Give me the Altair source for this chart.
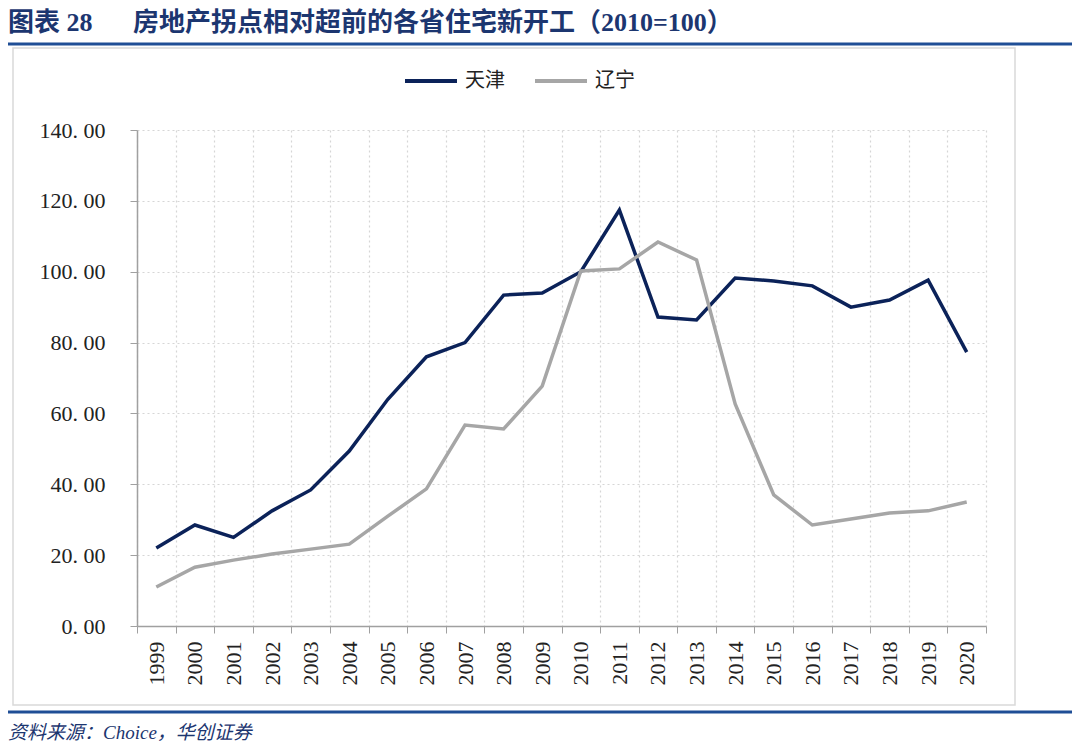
import altair as alt
import pandas as pd

years = [str(y) for y in range(1999, 2021)]
tianjin = [22.0, 28.5, 25.0, 32.5, 38.4, 49.4, 64.0, 76.0, 80.0, 93.4, 94.0, 100.0,
           117.4, 87.2, 86.4, 98.2, 97.4, 96.0, 90.0, 92.0, 97.6, 77.3]
liaoning = [11.0, 16.6, 18.6, 20.3, 21.7, 23.1, 31.0, 38.7, 56.7, 55.6, 67.7, 100.2,
            100.8, 108.4, 103.3, 62.7, 37.0, 28.5, 30.2, 31.9, 32.5, 35.0]
series = ["天津", "辽宁"]
colors = ["#0b2259", "#a6a6a6"]
y_ticks = [0, 20, 40, 60, 80, 100, 120, 140]

title_label = "图表 28"
title_text = "房地产拐点相对超前的各省住宅新开工"
title_paren = "（2010=100）"
source_text = "资料来源：Choice，华创证券"

rows = []
for i, yr in enumerate(years):
    rows.append({"year": yr, "series": series[0], "value": tianjin[i]})
    rows.append({"year": yr, "series": series[1], "value": liaoning[i]})
df = pd.DataFrame(rows)

SERIF = "Liberation Serif, Noto Sans CJK SC"
CJK = "Liberation Serif, Noto Sans CJK SC"

W, H = 849, 496
PL, PT = 129, 122
PR = 1064 - PL - W
PB = 736 - PT - H

lines = alt.Chart(df).mark_line(strokeWidth=3.5).encode(
    x=alt.X("year:O", title=None, sort=years, bandPosition=0.5,
            scale=alt.Scale(type="band", paddingInner=0, paddingOuter=0),
            axis=alt.Axis(tickBand="extent", labelAngle=-90, labelFont=SERIF,
                          labelFontSize=22, labelColor="#222222", labelPadding=8,
                          tickSize=7, tickColor="#a0a0a0", domainColor="#a0a0a0",
                          domainWidth=1.5, grid=True, gridColor="#d6d6d6",
                          gridDash=[2, 3], gridWidth=1.2)),
    y=alt.Y("value:Q", title=None,
            scale=alt.Scale(domain=[0, 140], nice=False),
            axis=alt.Axis(values=y_ticks,
                          labelExpr="replace(format(datum.value, '.2f'), '.', '. ')",
                          labelFont=SERIF,
                          labelFontSize=22, labelColor="#222222", labelPadding=25,
                          tickSize=7, tickColor="#a0a0a0", domainColor="#a0a0a0",
                          domainWidth=1.5, grid=True, gridColor="#d6d6d6",
                          gridDash=[2, 3], gridWidth=1.2)),
    color=alt.Color("series:N", sort=series,
                    scale=alt.Scale(domain=series, range=colors),
                    legend=alt.Legend(title=None, orient="none", direction="horizontal",
                                      legendX=266, legendY=-77, symbolType="stroke",
                                      symbolSize=2704, symbolStrokeWidth=4,
                                      labelFont=CJK, labelFontSize=20,
                                      labelColor="#222222", columnPadding=22,
                                      labelOffset=6)),
)

one = pd.DataFrame({"a": [0]})

box = alt.Chart(one).mark_rect(fill=None, stroke="#d9d9d9", strokeWidth=1.5).encode(
    x=alt.value(-124), x2=alt.value(878), y=alt.value(-82), y2=alt.value(575))

top_rule = alt.Chart(one).mark_rule(color="#1f4e96", strokeWidth=3).encode(
    x=alt.value(-140), x2=alt.value(PR + W + 10), y=alt.value(-86))
bot_rule = alt.Chart(one).mark_rule(color="#1f4e96", strokeWidth=3).encode(
    x=alt.value(-140), x2=alt.value(PR + W + 10), y=alt.value(582))

title1 = alt.Chart(one).mark_text(text=title_label, align="left", baseline="middle",
                                  font=CJK, fontSize=26, fontWeight="bold",
                                  color="#1c3670").encode(
    x=alt.value(-129), y=alt.value(-107))
title2 = alt.Chart(one).mark_text(text=title_text, align="left", baseline="middle",
                                  font=CJK, fontSize=26, fontWeight="bold",
                                  color="#1c3670").encode(
    x=alt.value(-4), y=alt.value(-107))
title3 = alt.Chart(one).mark_text(text=title_paren, align="left", baseline="middle",
                                  font=CJK, fontSize=26, fontWeight="bold",
                                  color="#1c3670").encode(
    x=alt.value(438), y=alt.value(-107))
source = alt.Chart(one).mark_text(text=source_text, align="left", baseline="middle",
                                  font=CJK, fontSize=19, fontStyle="italic",
                                  color="#1c3670").encode(
    x=alt.value(-129), y=alt.value(603))

chart = alt.layer(box, top_rule, bot_rule, title1, title2, title3, source, lines).properties(
    width=W, height=H,
    autosize=alt.AutoSizeParams(type="none"),
    padding={"left": PL, "top": PT, "right": PR, "bottom": PB},
).configure_view(stroke=None)

chart.save("out.html", embed_options={"renderer": "svg", "actions": False})
